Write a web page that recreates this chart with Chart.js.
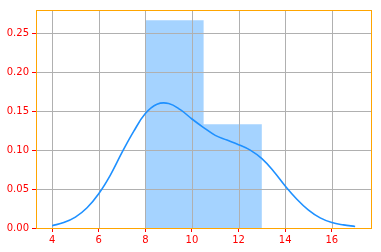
<!DOCTYPE html>
<html>
<head>
<meta charset="utf-8">
<script src="https://cdn.jsdelivr.net/npm/chart.js@4/dist/chart.umd.min.js"></script>
<style>
  html, body { margin: 0; padding: 0; background: #fff; }
  canvas { display: block; }
</style>
</head>
<body>
<canvas id="chart" width="381" height="252"></canvas>
<script>
// histogram (density)
const binEdges = [8, 10.5, 13];
const binDensity = [0.2667, 0.1333];

// kde curve
const kdeX = [4, 4.5, 5, 5.5, 6, 6.5, 7, 7.5, 8, 8.5, 9, 9.5, 10, 10.5, 11, 11.5, 12, 12.5, 13, 13.5, 14, 14.5, 15, 15.5, 16, 16.5, 17];
const kdeY = [0.003, 0.007, 0.014, 0.026, 0.044, 0.068, 0.097, 0.124, 0.147, 0.159, 0.160, 0.152, 0.140, 0.129, 0.119, 0.113, 0.107, 0.100, 0.089, 0.073, 0.054, 0.037, 0.023, 0.013, 0.007, 0.004, 0.002];

const xTicks = [4, 6, 8, 10, 12, 14, 16];
const yTicks = [0, 0.05, 0.10, 0.15, 0.20, 0.25];

const spineColor = '#ffa500';
const gridColor = '#b0b0b0';
const labelColor = '#ff0000';

// step outline of the histogram
const histPts = [{ x: binEdges[0], y: 0 }];
binDensity.forEach((d, i) => histPts.push({ x: binEdges[i], y: d }));
histPts.push({ x: binEdges[binEdges.length - 1], y: 0 });

const kdePts = kdeX.map((x, i) => ({ x: x, y: kdeY[i] }));

// grid goes over the bars but under the curve, like matplotlib
const gridOverBars = {
    id: 'gridOverBars',
    afterDatasetDraw(chart, args) {
        if (args.index !== 1) return;
        const { ctx, chartArea: a, scales } = chart;
        ctx.save();
        ctx.strokeStyle = gridColor;
        ctx.lineWidth = 1;
        ctx.beginPath();
        xTicks.forEach(v => {
            const px = Math.round(scales.x.getPixelForValue(v)) + 0.5;
            ctx.moveTo(px, a.top); ctx.lineTo(px, a.bottom);
        });
        yTicks.forEach(v => {
            const py = Math.round(scales.y.getPixelForValue(v)) + 0.5;
            ctx.moveTo(a.left, py); ctx.lineTo(a.right, py);
        });
        ctx.stroke();
        ctx.restore();
    }
};

const frame = {
    id: 'frame',
    afterDraw(chart) {
        const { ctx, chartArea: a } = chart;
        ctx.save();
        ctx.strokeStyle = spineColor;
        ctx.lineWidth = 1;
        ctx.strokeRect(Math.round(a.left) + 0.5, Math.round(a.top) + 0.5,
            Math.round(a.right - a.left), Math.round(a.bottom - a.top));
        ctx.restore();
    }
};

Chart.defaults.font.family = 'DejaVu Sans';
Chart.defaults.font.size = 10;

new Chart(document.getElementById('chart'), {
    type: 'line',
    data: {
        datasets: [
            {
                data: kdePts,
                borderColor: '#1e90ff',
                borderWidth: 1.6,
                pointRadius: 0,
                tension: 0.4,
                fill: false
            },
            {
                data: histPts,
                stepped: 'before',
                borderWidth: 0,
                borderColor: 'rgba(0,0,0,0)',
                backgroundColor: 'rgba(30,144,255,0.4)',
                pointRadius: 0,
                fill: 'origin'
            }
        ]
    },
    options: {
        responsive: false,
        animation: false,
        devicePixelRatio: 1,
        layout: { padding: { top: 10, right: 10, left: 0, bottom: 0 } },
        plugins: { legend: { display: false }, tooltip: { enabled: false } },
        scales: {
            x: {
                type: 'linear',
                min: 3.31,
                max: 17.68,
                afterBuildTicks: s => { s.ticks = xTicks.map(v => ({ value: v })); },
                afterFit: s => { s.height = 24; },
                border: { display: false },
                grid: { color: gridColor, tickColor: labelColor, tickLength: 4, drawOnChartArea: false },
                ticks: { color: labelColor, padding: 2, maxRotation: 0, callback: v => String(v) }
            },
            y: {
                min: 0,
                max: 0.28,
                afterBuildTicks: s => { s.ticks = yTicks.map(v => ({ value: v })); },
                afterFit: s => { s.width = 36; },
                border: { display: false },
                grid: { color: gridColor, tickColor: labelColor, tickLength: 4, drawOnChartArea: false },
                ticks: { color: labelColor, padding: 3, callback: v => v.toFixed(2) }
            }
        }
    },
    plugins: [gridOverBars, frame]
});
</script>
</body>
</html>
